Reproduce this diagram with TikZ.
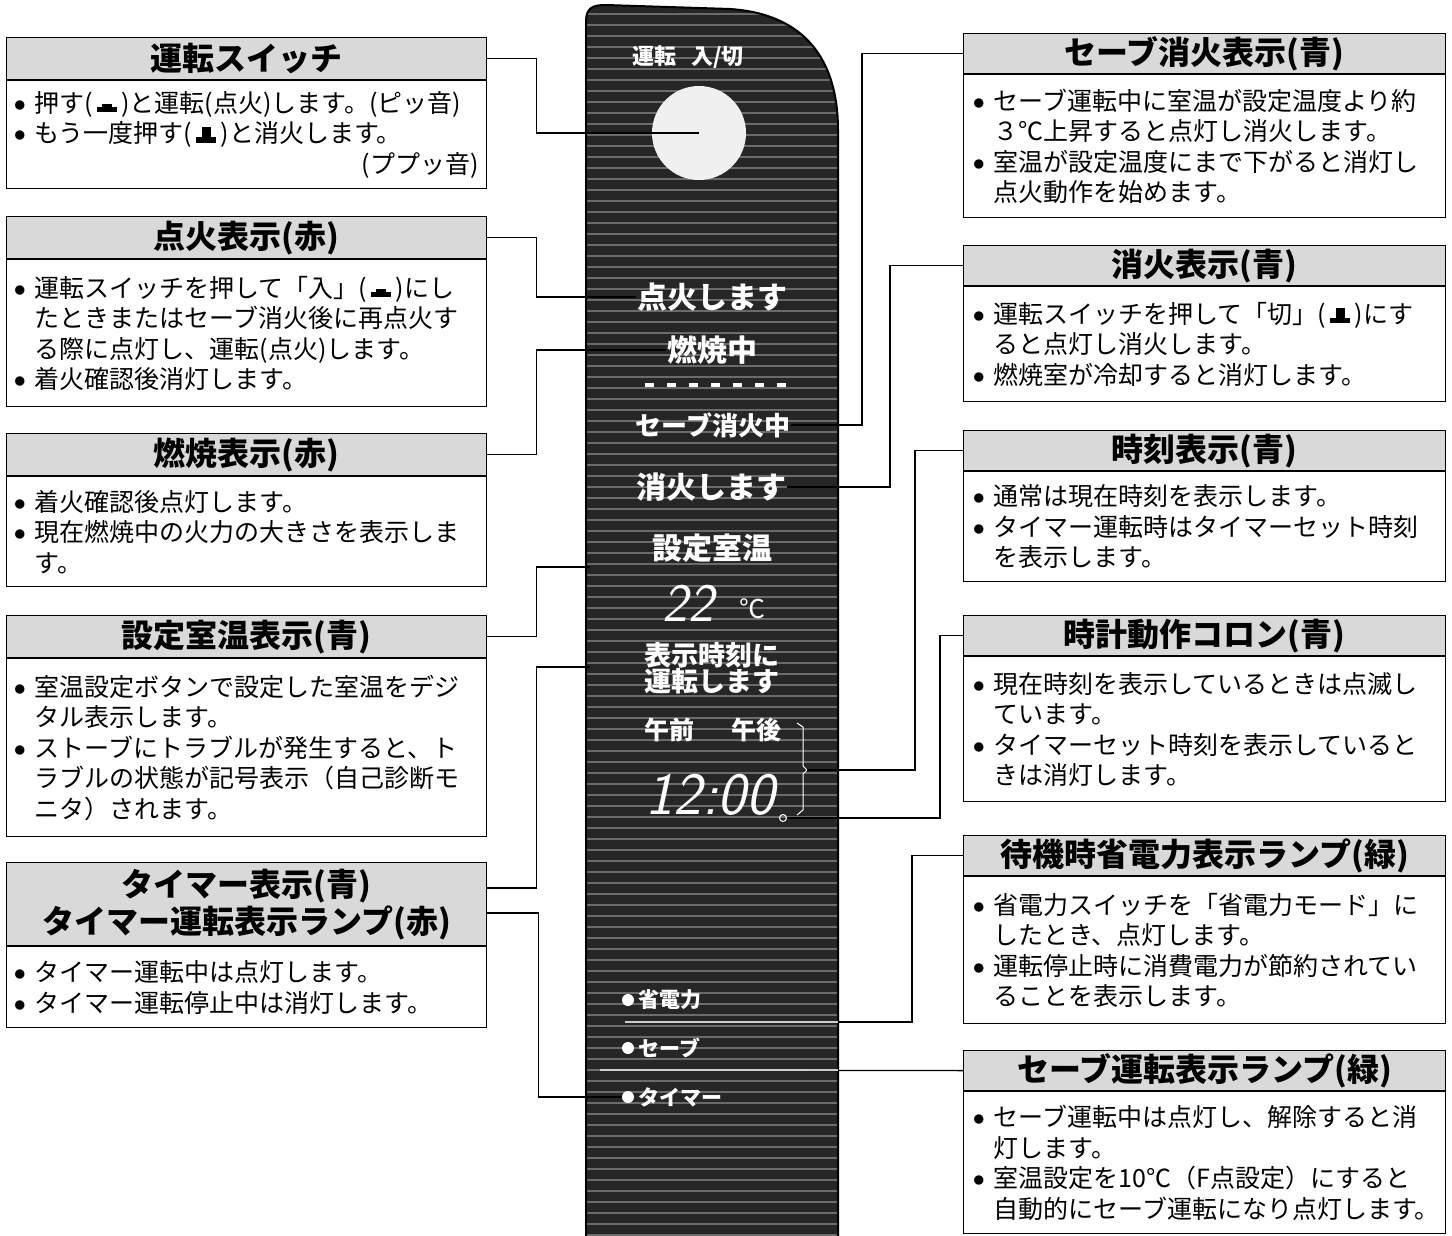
\documentclass[tikz,border=0pt]{standalone}
\usepackage{fontspec}
\setmainfont{Noto Sans CJK JP}
\usetikzlibrary{positioning}

\newcommand\bulmark{\makebox[0.8em][l]{\raisebox{0.12em}{\scalebox{0.42}{●}}}}
\newcommand\bodyind{\hspace*{0.8em}}
\newcommand\btnin{\rule{0.8em}{0.22em}\hspace{-0.6em}\rule[0.22em]{0.4em}{0.12em}\hspace{0.2em}}
\newcommand\btnout{\rule{0.8em}{0.22em}\hspace{-0.58em}\rule[0.22em]{0.36em}{0.4em}\hspace{0.22em}}
\newcommand\panelpath{(586,1240) -- (586,22) .. controls (586,8) and (592,5) .. (606,5) -- (730,9) .. controls (805,14) and (838,60) .. (838,130) -- (838,1240) -- cycle}

\begin{document}
\begin{tikzpicture}[x=1pt,y=-1pt,
    box/.style={draw,line width=1.2pt},
    head/.style={box,fill=black!15,minimum width=480,minimum height=42,inner sep=0pt,anchor=north west,
      font=\bfseries\fontsize{32pt}{37pt}\selectfont,align=center},
    headR/.style={head,minimum width=482,minimum height=40},
    bodyL/.style={box,text width=464pt,inner xsep=8pt,inner ysep=0pt,align=left,
      font=\fontsize{25pt}{30.5pt}\selectfont},
    bodyR/.style={bodyL,text width=462pt,inner xsep=10pt},
    pntext/.style={text=white,inner sep=1pt,font=\bfseries\fontsize{30pt}{30pt}\selectfont},
    segtext/.style={text=white,inner sep=1pt,font=\sffamily\itshape\fontsize{54pt}{54pt}\selectfont},
    lampdot/.style={circle,fill=white,inner sep=0pt,minimum size=12},
    lamptext/.style={pntext,font=\bfseries\fontsize{21pt}{21pt}\selectfont},
    rib/.style={black!58,line width=2.5pt},
    lead/.style={line width=1.3pt},
    inlead/.style={white!80!black,line width=1.3pt}]
  \useasboundingbox (0,0) rectangle (1452,1236);

  % Left boxes
  \node[head] (hdSwitch) at (6,37) {運転スイッチ};
  \node[bodyL,minimum height=108,below=0pt of hdSwitch] (bdSwitch) {%
    \bulmark 押す(\,\btnin\,)と運転(点火)します。(ピッ音)\\
    \bulmark もう一度押す(\,\btnout\,)と消火します。\\
    \hspace*{\fill}(ププッ音)};

  \node[head] (hdIgnite) at (6,216) {点火表示(赤)};
  \node[bodyL,minimum height=147,below=0pt of hdIgnite] (bdIgnite) {%
    \bulmark 運転スイッチを押して「入」(\,\btnin\,)にし\\
    \bodyind たときまたはセーブ消火後に再点火す\\
    \bodyind る際に点灯し、運転(点火)します。\\
    \bulmark 着火確認後消灯します。};

  \node[head] (hdBurn) at (6,433) {燃焼表示(赤)};
  \node[bodyL,minimum height=110,below=0pt of hdBurn] (bdBurn) {%
    \bulmark 着火確認後点灯します。\\
    \bulmark 現在燃焼中の火力の大きさを表示しま\\
    \bodyind す。};

  \node[head] (hdSetTemp) at (6,615) {設定室温表示(青)};
  \node[bodyL,minimum height=178,below=0pt of hdSetTemp] (bdSetTemp) {%
    \bulmark 室温設定ボタンで設定した室温をデジ\\
    \bodyind タル表示します。\\
    \bulmark ストーブにトラブルが発生すると、ト\\
    \bodyind ラブルの状態が記号表示（自己診断モ\\
    \bodyind ニタ）されます。};

  \node[head,minimum height=83] (hdTimer) at (6,862) {タイマー表示(青)\\タイマー運転表示ランプ(赤)};
  \node[bodyL,minimum height=81,below=0pt of hdTimer] (bdTimer) {%
    \bulmark タイマー運転中は点灯します。\\
    \bulmark タイマー運転停止中は消灯します。};

  % Right boxes
  \node[headR] (hdSaveOff) at (963,33) {セーブ消火表示(青)};
  \node[bodyR,minimum height=143,below=0pt of hdSaveOff] (bdSaveOff) {%
    \bulmark セーブ運転中に室温が設定温度より約\\
    \bodyind ３℃上昇すると点灯し消火します。\\
    \bulmark 室温が設定温度にまで下がると消灯し\\
    \bodyind 点火動作を始めます。};

  \node[headR] (hdOff) at (963,245) {消火表示(青)};
  \node[bodyR,minimum height=115,below=0pt of hdOff] (bdOff) {%
    \bulmark 運転スイッチを押して「切」(\,\btnout\,)にす\\
    \bodyind ると点灯し消火します。\\
    \bulmark 燃焼室が冷却すると消灯します。};

  \node[headR] (hdClock) at (963,430) {時刻表示(青)};
  \node[bodyR,minimum height=110,below=0pt of hdClock] (bdClock) {%
    \bulmark 通常は現在時刻を表示します。\\
    \bulmark タイマー運転時はタイマーセット時刻\\
    \bodyind を表示します。};

  \node[headR] (hdColon) at (963,615) {時計動作コロン(青)};
  \node[bodyR,minimum height=145,below=0pt of hdColon] (bdColon) {%
    \bulmark 現在時刻を表示しているときは点滅し\\
    \bodyind ています。\\
    \bulmark タイマーセット時刻を表示していると\\
    \bodyind きは消灯します。};

  \node[headR] (hdEco) at (963,835) {待機時省電力表示ランプ(緑)};
  \node[bodyR,minimum height=147,below=0pt of hdEco] (bdEco) {%
    \bulmark 省電力スイッチを「省電力モード」に\\
    \bodyind したとき、点灯します。\\
    \bulmark 運転停止時に消費電力が節約されてい\\
    \bodyind ることを表示します。};

  \node[headR] (hdSaveLamp) at (963,1050) {セーブ運転表示ランプ(緑)};
  \node[bodyR,minimum height=142,below=0pt of hdSaveLamp] (bdSaveLamp) {%
    \bulmark セーブ運転中は点灯し、解除すると消\\
    \bodyind 灯します。\\
    \bulmark 室温設定を10℃（F点設定）にすると\\
    \bodyind 自動的にセーブ運転になり点灯します。};

  % Panel
  \fill[black!85] \panelpath;
  \begin{scope}
    \clip \panelpath;
    \foreach \yy in {14,25,...,1236}
      \draw[rib] (586,\yy) -- (838,\yy);
  \end{scope}
  \draw[line width=2pt] \panelpath;

  \node[pntext,font=\bfseries\fontsize{22pt}{22pt}\selectfont] (pnTop) at (688,57) {運転\hspace{0.7em}入/切};
  \node[circle,fill=black!6,minimum size=94] (pnSwitch) at (699,133) {};
  \node[pntext] (pnIgnite) at (712,297) {点火します};
  \node[pntext] (pnBurn) at (712,350) {燃焼中};
  \foreach \xx in {645,667,...,777}
    \fill[white] (\xx,383) rectangle ++(9,4);
  \node[pntext,font=\bfseries\fontsize{26pt}{26pt}\selectfont] (pnSaveOff) at (713,425) {セーブ消火中};
  \node[pntext] (pnOff) at (711,487) {消火します};
  \node[pntext] (pnSetTemp) at (712,548) {設定室温};
  \node[segtext] (pnTemp) at (688,603) {22};
  \node[pntext,font=\fontsize{26pt}{26pt}\selectfont] (pnDeg) at (752,609) {℃};
  \node[pntext,font=\bfseries\fontsize{27pt}{26pt}\selectfont,align=center] (pnTimerMsg) at (712,668) {表示時刻に\\運転します};
  \node[pntext,font=\bfseries\fontsize{25pt}{25pt}\selectfont] (pnAmPm) at (713,730) {午前\hspace{1.5em}午後};
  \node[segtext,font=\sffamily\itshape\fontsize{60pt}{60pt}\selectfont] (pnClock) at (710,795) {12:00};
  \node[circle,draw=white,line width=1pt,inner sep=0pt,minimum size=7] (pnColon) at (783,818) {};
  \draw[white,line width=1pt] (797,723) -- (803,727) -- (803,766) -- (807,770) -- (803,774) -- (803,810) -- (797,815);
  \coordinate (brk) at (807,770);

  \node[lampdot] (lpEco) at (628,1000) {};
  \node[lamptext,right=3pt of lpEco] (ltEco) {省電力};
  \node[lampdot] (lpSave) at (628,1048) {};
  \node[lamptext,right=3pt of lpSave] (ltSave) {セーブ};
  \node[lampdot] (lpTimer) at (628,1097) {};
  \node[lamptext,right=3pt of lpTimer] (ltTimer) {タイマー};

  \coordinate (cTemp) at (590,567);
  \coordinate (cMsg) at (590,667);
  \coordinate (cEco) at (625,1022);
  \coordinate (cSave) at (600,1070);
  \coordinate (pnEdge) at (838,0);

  % Connectors, left side
  \draw[lead] (hdSwitch.east) -- ++(49,0) |- (pnSwitch.center);
  \draw[lead] (hdIgnite.east) -- ++(49,0) |- (pnIgnite.west);
  \draw[lead] (hdBurn.east) -- ++(49,0) |- (pnBurn.west);
  \draw[lead] (hdSetTemp.east) -- ++(49,0) |- (cTemp);
  \draw[lead] ([yshift=16pt]hdTimer.east) -- ++(49,0) |- (cMsg);
  \draw[lead] ([yshift=-9pt]hdTimer.east) -- ++(51,0) |- (lpTimer.west);

  % Connectors, right side
  \draw[lead] (hdSaveOff.west) -- ++(-101,0) |- (pnSaveOff.east);
  \draw[lead] (hdOff.west) -- ++(-73,0) |- (pnOff.east);
  \draw[lead] (hdClock.west) -- ++(-48,0) |- (brk);
  \draw[lead] (hdColon.west) -- ++(-23,0) |- (pnColon.east);
  \draw[lead] (hdEco.west) -- ++(-51,0) |- (cEco);
  \draw[lead] (hdSaveLamp.west) -- (cSave);
  \draw[inlead] (cEco) -- (cEco -| pnEdge);
  \draw[inlead] (cSave) -- (cSave -| pnEdge);
\end{tikzpicture}
\end{document}
